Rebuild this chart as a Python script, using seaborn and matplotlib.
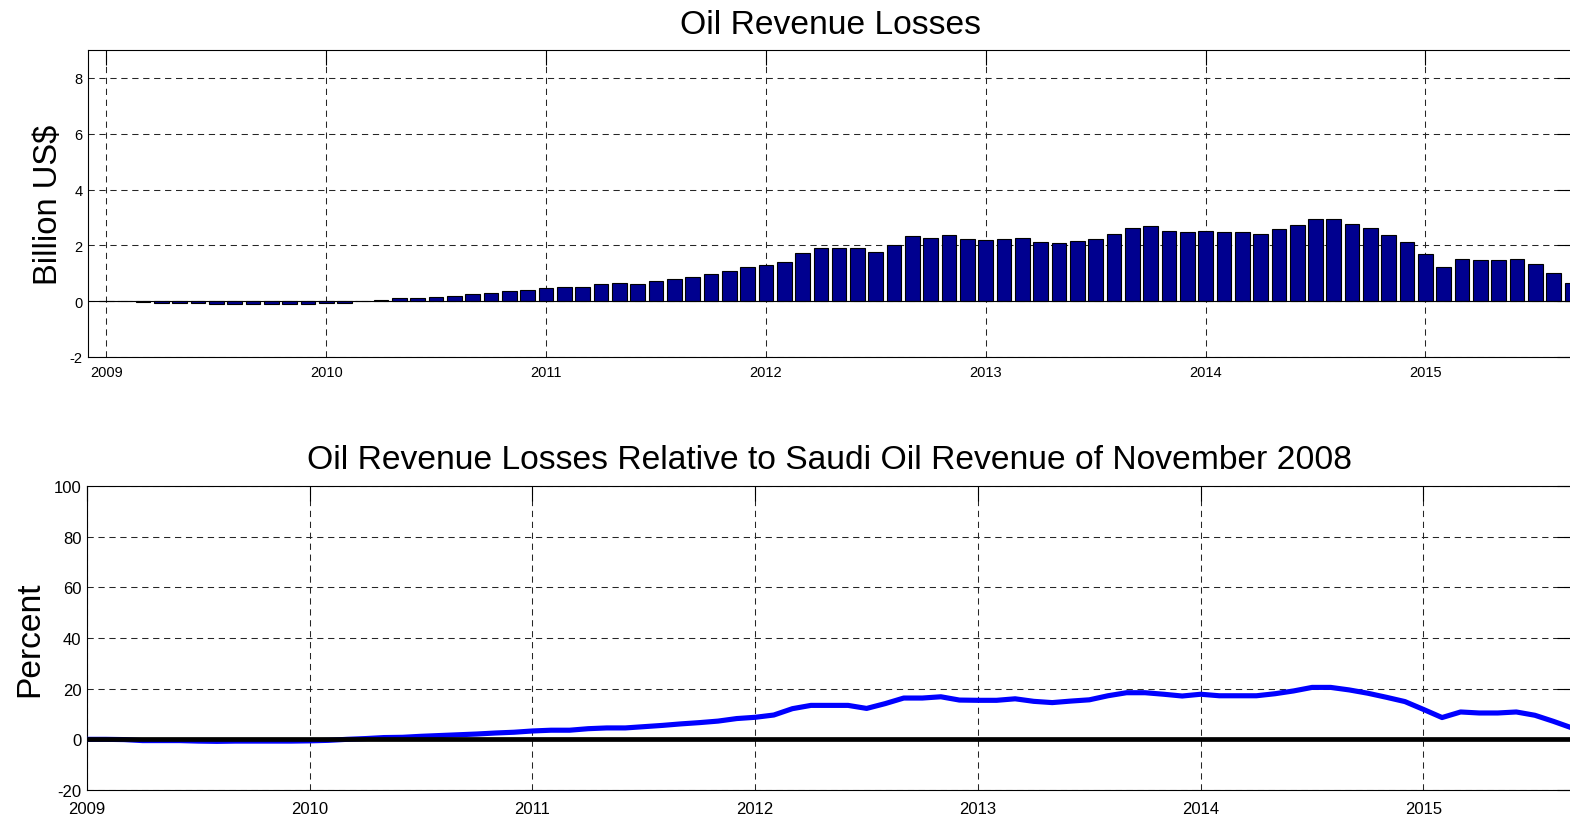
import numpy as np
import pandas as pd
import matplotlib
matplotlib.use("Agg")
import matplotlib.pyplot as plt
import seaborn as sns

# ---- data (monthly, Jan 2009 onward) ----
months = pd.date_range("2009-01-01", periods=81, freq="MS")
losses_bn = [0.00, 0.00, -0.02, -0.07, -0.07, -0.07, -0.10, -0.10, -0.10, -0.10,
             -0.10, -0.10, -0.08, -0.06, 0.00, 0.05, 0.10, 0.10, 0.16, 0.20,
             0.26, 0.30, 0.36, 0.41, 0.46, 0.51, 0.51, 0.61, 0.66, 0.61,
             0.71, 0.81, 0.86, 0.96, 1.07, 1.22, 1.31, 1.41, 1.71, 1.92,
             1.92, 1.92, 1.77, 2.02, 2.32, 2.28, 2.38, 2.23, 2.18, 2.23,
             2.28, 2.12, 2.07, 2.17, 2.23, 2.42, 2.63, 2.68, 2.53, 2.48,
             2.53, 2.48, 2.48, 2.42, 2.59, 2.73, 2.93, 2.93, 2.78, 2.63,
             2.38, 2.13, 1.68, 1.22, 1.52, 1.47, 1.47, 1.52, 1.32, 1.02,
             0.66]
losses_pct = [0.0, 0.0, -0.1, -0.5, -0.5, -0.5, -0.7, -0.8, -0.7, -0.7,
              -0.7, -0.7, -0.6, -0.4, 0.0, 0.3, 0.7, 0.8, 1.2, 1.5,
              1.8, 2.1, 2.5, 2.8, 3.3, 3.6, 3.6, 4.2, 4.5, 4.5,
              5.0, 5.5, 6.1, 6.6, 7.2, 8.2, 8.7, 9.6, 12.1, 13.4,
              13.4, 13.4, 12.2, 14.1, 16.3, 16.3, 16.8, 15.5, 15.4, 15.4,
              16.0, 15.0, 14.5, 15.1, 15.6, 17.2, 18.4, 18.4, 17.8, 17.1,
              17.8, 17.2, 17.2, 17.2, 18.0, 19.1, 20.5, 20.5, 19.5, 18.2,
              16.6, 14.9, 11.8, 8.6, 10.8, 10.4, 10.4, 10.8, 9.5, 7.1,
              4.5]
year_ticks = [2009, 2010, 2011, 2012, 2013, 2014, 2015]
top_yticks = [-2, 0, 2, 4, 6, 8]
bot_yticks = [-20, 0, 20, 40, 60, 80, 100]

title_top = "Oil Revenue Losses"
title_bot = "Oil Revenue Losses Relative to Saudi Oil Revenue of November 2008"

# decimal-year positions of the months
xdec = np.round(months.year + (months.month - 1) / 12.0, 6)
df = pd.DataFrame({"t": xdec, "bn": losses_bn, "pct": losses_pct})

sns.set_style("white")
plt.rcParams["font.family"] = ["Liberation Sans", "DejaVu Sans"]
plt.rcParams["axes.linewidth"] = 0.8
plt.rcParams["text.color"] = "black"
plt.rcParams["axes.labelcolor"] = "black"
plt.rcParams["axes.titlecolor"] = "black"

W, H = 1570, 820
fig = plt.figure(figsize=(W / 100, H / 100), dpi=100)
fig.patch.set_facecolor("white")

ax1 = fig.add_axes([88 / W, 1 - 358 / H, (1572 - 88) / W, 307 / H])
ax2 = fig.add_axes([87 / W, 1 - 791 / H, (1572 - 87) / W, 304 / H])

grid_kw = dict(color="0.15", linewidth=0.75, linestyle=(0, (6, 4.5)))

# ---- top: bars ----
sns.barplot(data=df, x="t", y="bn", native_scale=True, width=0.8,
            color="#00008F", saturation=1, edgecolor="black", linewidth=0.8,
            errorbar=None, ax=ax1, zorder=3)
ax1.axhline(0, color="black", linewidth=0.8, zorder=4)
ax1.set_xlim(2009 - 1 / 12, 2015 + 8 / 12)
ax1.set_ylim(-2, 9)
ax1.set_xticks(year_ticks)
ax1.set_xticklabels([str(y) for y in year_ticks])
ax1.set_yticks(top_yticks)
ax1.set_yticklabels([str(v) for v in top_yticks])
ax1.set_title(title_top, fontsize=24.2, pad=12)
ax1.set_ylabel("Billion US$", fontsize=23.6, labelpad=4)
ax1.set_xlabel("")

# ---- bottom: line ----
sns.lineplot(data=df, x="t", y="pct", color="#0000FF", linewidth=3.7,
             ax=ax2, zorder=3)
ax2.axhline(0, color="black", linewidth=3.4, zorder=4)
ax2.set_xlim(2009, 2015 + 8 / 12)
ax2.set_ylim(-20, 100)
ax2.set_xticks(year_ticks)
ax2.set_xticklabels([str(y) for y in year_ticks])
ax2.set_yticks(bot_yticks)
ax2.set_yticklabels([str(v) for v in bot_yticks])
ax2.set_title(title_bot, fontsize=24.2, pad=13)
ax2.set_ylabel("Percent", fontsize=24.2, labelpad=6)
ax2.set_xlabel("")

for ax, fs, xpad in ((ax1, 10.5, 6), (ax2, 12, 8)):
    ax.grid(True, which="major", **grid_kw)
    ax.set_axisbelow(True)
    ax.tick_params(direction="in", length=11, width=0.8, colors="black",
                   labelsize=fs, top=True, right=True, pad=4)
    ax.tick_params(axis="x", pad=xpad)
    for s in ax.spines.values():
        s.set_color("black")
        s.set_linewidth(0.8)
        s.set_visible(True)
    ax.set_facecolor("white")

fig.savefig("out.png", dpi=100, facecolor="white")
